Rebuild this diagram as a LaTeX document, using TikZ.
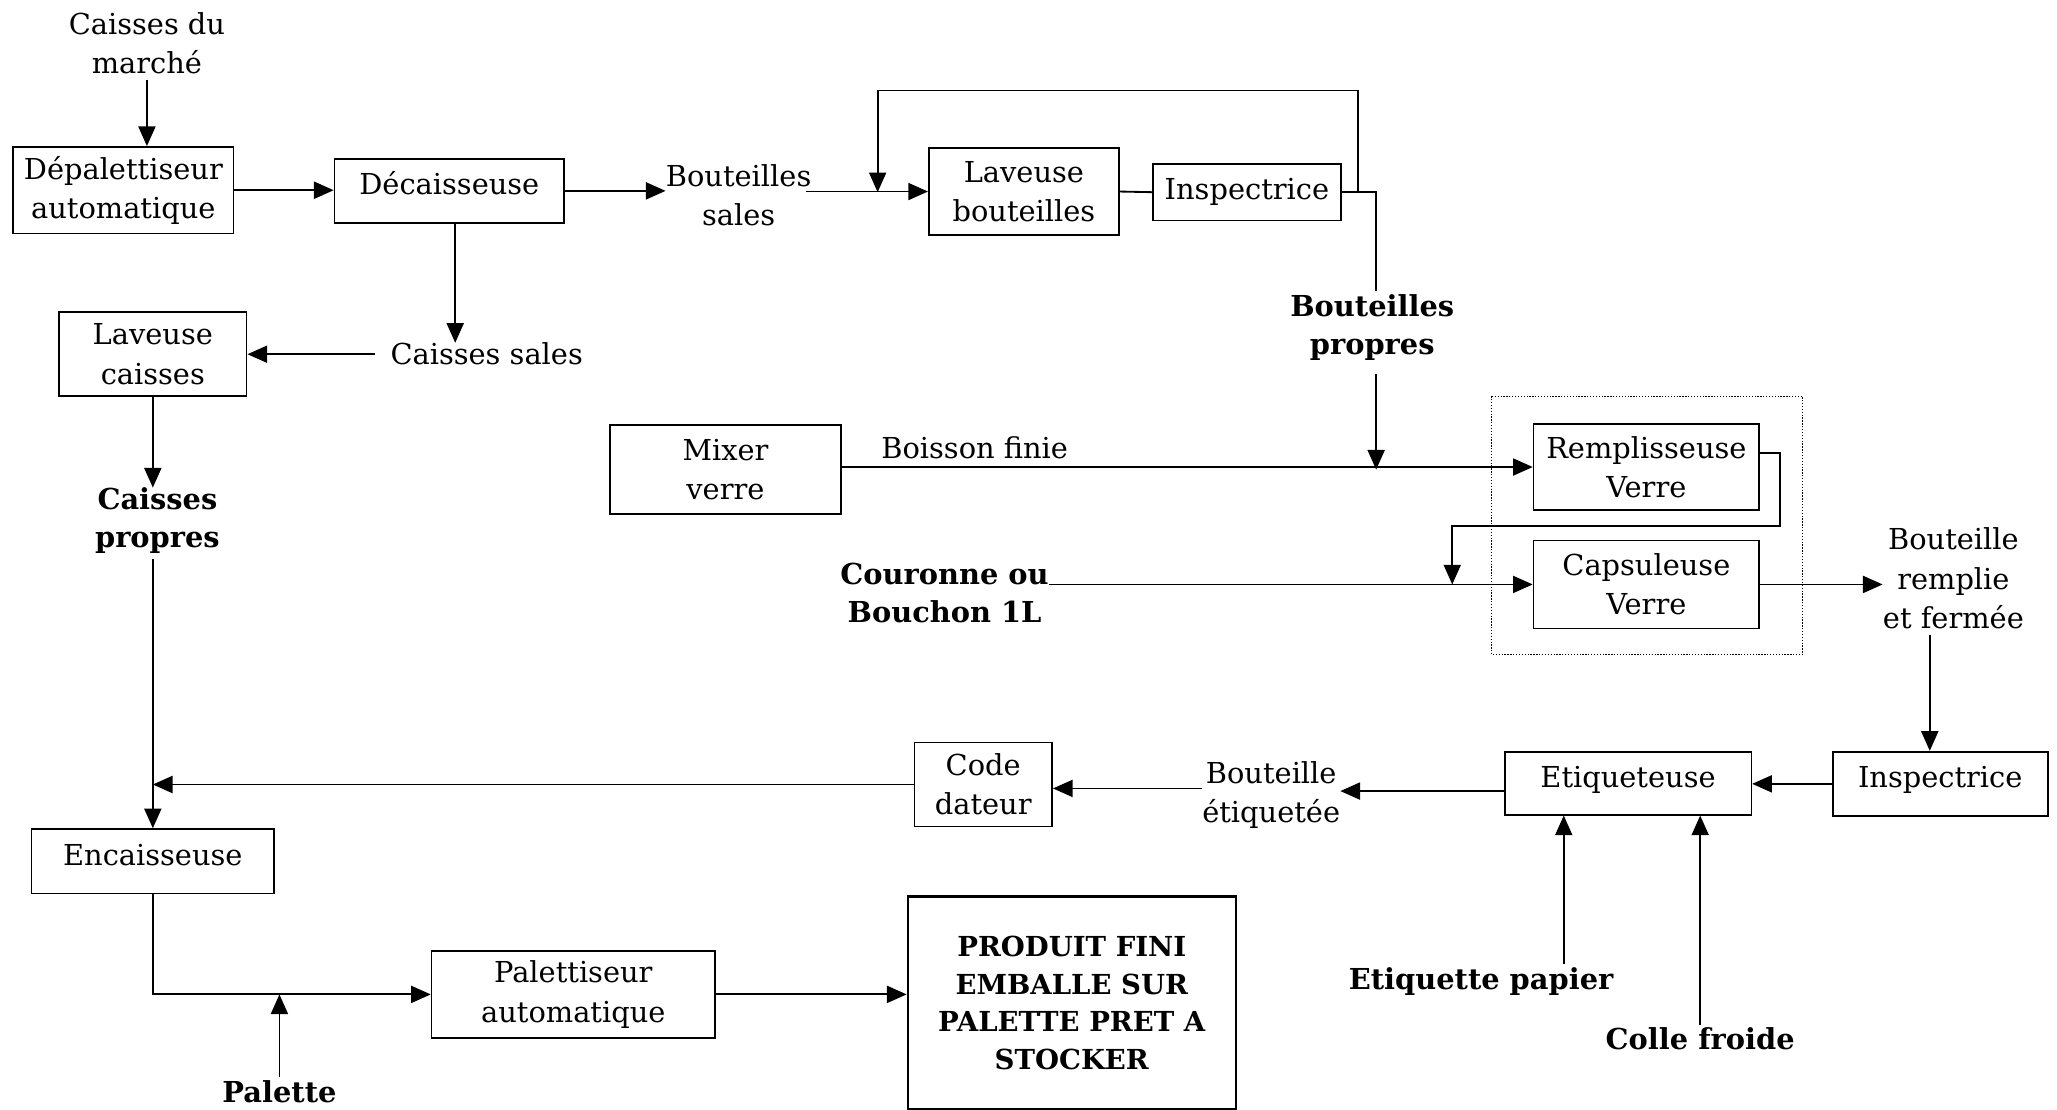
\documentclass[tikz,border=0pt]{standalone}
\usepackage{fontspec}
\setmainfont{DejaVu Serif}
\usetikzlibrary{arrows.meta,calc}
\begin{document}
\begin{tikzpicture}[x=1pt,y=-1pt,
  box/.style={draw, line width=1.3pt, inner sep=0pt, align=center,
    font=\fontsize{22}{30}\selectfont},
  hi/.style={text height=19pt, text depth=13pt},
  txt/.style={inner sep=0pt, align=center, font=\fontsize{22}{30}\selectfont},
  btxt/.style={inner sep=0pt, align=center, font=\bfseries\fontsize{22}{29}\selectfont},
  ln/.style={line width=1.4pt},
  arr/.style={ln, -{Triangle[length=15pt,width=13pt]}}]
\useasboundingbox (0,0) rectangle (1568,846);

% machines
\node[box, minimum width=168pt, minimum height=66pt] (dep) at (94,145) {Dépalettiseur\\automatique};
\node[box, hi, minimum width=175pt, minimum height=49pt] (dec) at (342.5,145.5) {Décaisseuse};
\node[box, minimum width=145pt, minimum height=66pt] (lavb) at (780.5,146) {Laveuse\\bouteilles};
\node[box, minimum width=143pt, minimum height=43pt] (insp1) at (950.5,146.5) {Inspectrice};
\node[box, minimum width=143pt, minimum height=64pt] (lavc) at (116.5,270) {Laveuse\\caisses};
\node[box, minimum width=176pt, minimum height=68pt] (mixer) at (553,358) {Mixer\\verre};
\node[box, minimum width=172pt, minimum height=66pt] (remp) at (1255,356) {Remplisseuse\\Verre};
\node[box, minimum width=172pt, minimum height=67pt] (caps) at (1255,445.5) {Capsuleuse\\Verre};
\node[box, hi, minimum width=164pt, minimum height=49pt] (insp2) at (1479,597.5) {Inspectrice};
\node[box, hi, minimum width=188pt, minimum height=48pt] (etiq) at (1241,597) {Etiqueteuse};
\node[box, minimum width=105pt, minimum height=64pt] (code) at (749.5,598) {Code\\dateur};
\node[box, hi, minimum width=185pt, minimum height=49pt] (enc) at (116.5,656.5) {Encaisseuse};
\node[box, minimum width=216pt, minimum height=66pt] (pal) at (437,758) {Palettiseur\\automatique};
\node[box, line width=1.8pt, minimum width=250pt, minimum height=162pt,
  font=\bfseries\fontsize{21}{28.5}\selectfont] (prod) at (817,764.5)
  {PRODUIT FINI\\EMBALLE SUR\\PALETTE PRET A\\STOCKER};

% filling / capping unit
\draw[line width=0.9pt, dash pattern=on 1pt off 1.2pt] (1137,302) rectangle (1374,499);

% flow labels
\node[txt] (marche) at (112,33) {Caisses du\\marché};
\node[txt] (bsales) at (563,149) {Bouteilles\\sales};
\node[txt] (csales) at (371,270) {Caisses sales};
\node[btxt] (cpropres) at (120,397) {Caisses\\propres};
\node[btxt] (bpropres) at (1046,250) {Bouteilles\\propres};
\node[txt] (boisson) at (743,341) {Boisson finie};
\node[btxt] (couronne) at (720,452) {Couronne ou\\Bouchon 1L};
\node[txt] (bremplie) at (1489,441) {Bouteille\\remplie\\et fermée};
\node[txt] (betiq) at (969,606) {Bouteille\\étiquetée};
\node[btxt] (etpap) at (1129,748) {Etiquette papier};
\node[btxt] (colle) at (1296,792) {Colle froide};
\node[btxt] (palette) at (213,832) {Palette};

% helper coordinates for junctions
\coordinate (outB) at (1049,146.5);
\coordinate (fb1) at (1035,146.5);
\coordinate (fb2) at (669,146.5);
\coordinate (fbtop) at (0,69);
\coordinate (dx) at (347,0);
\coordinate (vx) at (1471,0);
\coordinate (ye1) at (0,601);
\coordinate (ye2) at (0,603);
\coordinate (xp) at (1192,0);
\coordinate (r1) at (1357,345);
\coordinate (r2) at (1107,401);

% top line: crates and bottles
\draw[arr, shorten <=4pt] (marche.south -| marche) -- (marche |- dep.north);
\draw[arr] (dep.east) -- (dep.east -| dec.west);
\draw[arr] (dec.east) -- (dec.east -| bsales.west);
\draw[arr, shorten <=-4pt] (bsales.east |- lavb.west) -- (lavb.west);
\draw[ln] (lavb.east) -- (insp1.west);
\draw[ln] (insp1.east) -- (outB) -- ([yshift=3pt]outB |- bpropres.north);
\draw[arr] (fb1) -- (fb1 |- fbtop) -- (fb2 |- fbtop) -- (fb2);

% crates washing and return
\draw[arr] (dx |- dec.south) -- (dx |- csales.north);
\draw[arr] ([xshift=-12pt]csales.west) -- (csales.west -| lavc.east);
\draw[arr] (lavc.south) -- (lavc.south |- cpropres.north);
\draw[arr, shorten <=4pt] (enc.north |- cpropres.south) -- (enc.north);

% filling, capping
\draw[arr, shorten <=10pt] (outB |- bpropres.south) -- (outB |- mixer.east);
\draw[arr] (mixer.east |- remp.west) -- (remp.west);
\draw[arr] (remp.east |- r1) -- (r1) -- (r1 |- r2) -- (r2) -- (r2 |- caps.west);
\draw[arr] (couronne.east |- caps.west) -- (caps.west);
\draw[arr] (caps.east) -- (caps.east -| bremplie.west);
\draw[arr, shorten <=4pt] (vx |- bremplie.south) -- (vx |- insp2.north);

% labelling, dating, packing
\draw[arr] (insp2.west) -- (insp2.west -| etiq.east);
\draw[arr] (etiq.west |- ye2) -- (betiq.east |- ye2);
\draw[arr] (betiq.west |- ye1) -- (code.east |- ye1);
\draw[arr] (code.west) -- (code.west -| enc.north);
\draw[arr, shorten <=2pt] (xp |- etpap.north) -- (xp |- etiq.south);
\draw[arr, shorten <=2pt] (colle.north) -- (colle.north |- etiq.south);
\draw[arr] (enc.south) -- (enc.south |- pal.west) -- (pal.west);
\draw[arr, shorten <=2pt] (palette.north) -- (palette.north |- pal.west);
\draw[arr] (pal.east) -- (pal.east -| prod.west);
\end{tikzpicture}
\end{document}
